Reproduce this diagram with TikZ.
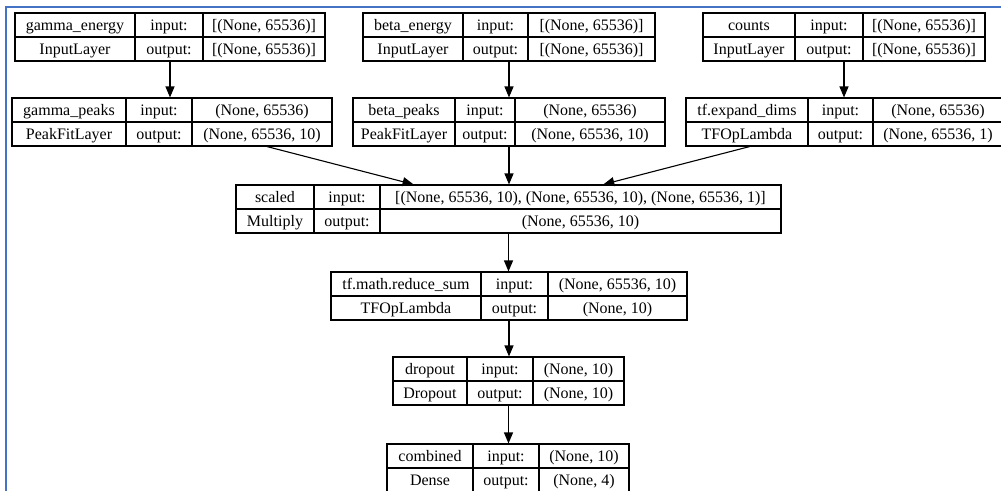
\documentclass[tikz,border=0pt]{standalone}
\usepackage{fontspec}
\setmainfont{Liberation Serif}
\usetikzlibrary{arrows.meta,fit}
\definecolor{frameblue}{HTML}{4472C4}
\tikzset{
  layer/.style={draw, inner sep=0pt, line width=1.1pt},
  cell/.style={anchor=base, inner sep=0pt, font=\rmfamily\fontsize{16}{19}\selectfont},
  edge/.style={-{Triangle[length=11pt,width=9pt]}, line width=1.1pt},
  frame/.style={draw=frameblue, line width=2.5pt}
}
\begin{document}
\begin{tikzpicture}[x=1pt,y=-1pt]
  \useasboundingbox (0,0) rectangle (1001,490);
  \clip (0,0) rectangle (1001,490);
  \draw[frame] (6,7) rectangle (1020,520);
  \foreach \n/\xa/\xb/\xc/\xd/\yt/\lname/\ltype/\lin/\lout in {
      ge/15/135/203/325/13/{gamma\_energy}/{InputLayer}/{[(None, 65536)]}/{[(None, 65536)]},
      be/363/463/528/655/13/{beta\_energy}/{InputLayer}/{[(None, 65536)]}/{[(None, 65536)]},
      co/703/795/863/985/13/{counts}/{InputLayer}/{[(None, 65536)]}/{[(None, 65536)]},
      gp/12/126/192/332/98/{gamma\_peaks}/{PeakFitLayer}/{(None, 65536)}/{(None, 65536, 10)},
      bp/353/455/515/665/98/{beta\_peaks}/{PeakFitLayer}/{(None, 65536)}/{(None, 65536, 10)},
      ed/686/808/873/1003/98/{tf.expand\_dims}/{TFOpLambda}/{(None, 65536)}/{(None, 65536, 1)},
      sc/236/314/380/781/185/{scaled}/{Multiply}/{[(None, 65536, 10), (None, 65536, 10), (None, 65536, 1)]}/{(None, 65536, 10)},
      rs/331/481/548/687/272/{tf.math.reduce\_sum}/{TFOpLambda}/{(None, 65536, 10)}/{(None, 10)},
      dr/393/467/533/624/357/{dropout}/{Dropout}/{(None, 10)}/{(None, 10)},
      cb/387/473/539/629/444/{combined}/{Dense}/{(None, 10)}/{(None, 4)}
  }{
    \node[layer, fit={(\xa,\yt) (\xd,\yt+48)}] (\n) {};
    \draw[line width=1.1pt] (\xa,\yt+24) -- (\xd,\yt+24)
      (\xb,\yt) -- (\xb,\yt+48) (\xc,\yt) -- (\xc,\yt+48);
    \node[cell] (\n-name) at ({(\xa+\xb)/2},\yt+17.5) {\lname};
    \node[cell] (\n-type) at ({(\xa+\xb)/2},\yt+41.5) {\ltype};
    \node[cell] (\n-ilab) at ({(\xb+\xc)/2},\yt+17.5) {input:};
    \node[cell] (\n-olab) at ({(\xb+\xc)/2},\yt+41.5) {output:};
    \node[cell] (\n-in) at ({(\xc+\xd)/2},\yt+17.5) {\lin};
    \node[cell] (\n-out) at ({(\xc+\xd)/2},\yt+41.5) {\lout};
  }
  \begin{scope}[edge]
    \draw (ge) -- (ge |- gp.north);
    \draw (be) -- (be |- bp.north);
    \draw (co) -- (co |- ed.north);
    \draw (gp) -- (sc);
    \draw (bp) -- (bp |- sc.north);
    \draw (ed) -- (sc);
    \draw (sc) -- (sc |- rs.north);
    \draw (rs) -- (rs |- dr.north);
    \draw (dr) -- (dr |- cb.north);
  \end{scope}
\end{tikzpicture}
\end{document}
